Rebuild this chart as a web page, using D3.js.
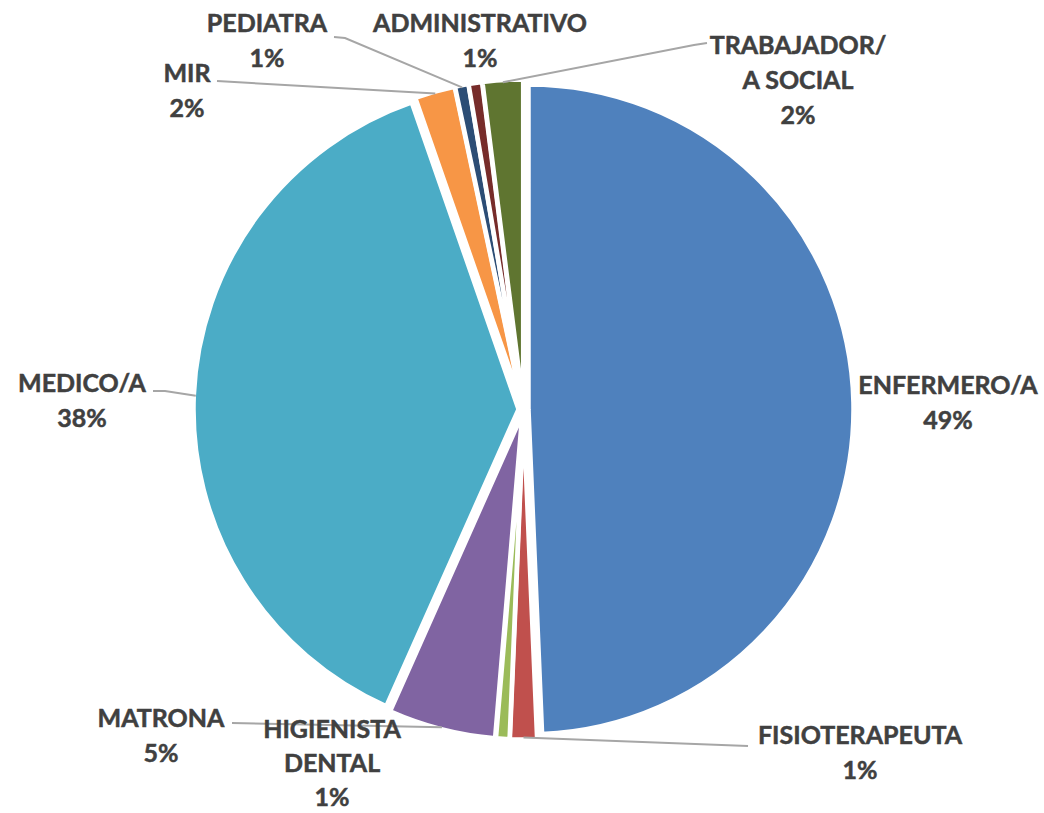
<!DOCTYPE html>
<html>
<head>
<meta charset="UTF-8">
<script src="https://d3js.org/d3.v7.min.js"></script>
<style>
  body { margin: 0; background: #fff; overflow: hidden; }
  .lbl { font-family: Lato, 'Open Sans', sans-serif; font-weight: bold; font-size: 25px;
         fill: #404040; stroke: #404040; stroke-width: 0.5; }
  .leader { fill: none; stroke: #a6a6a6; stroke-width: 2; }
</style>
</head>
<body>
<div id="chart"></div>
<script>
  // staff categories, clockwise from 12 o'clock
  const categories = ["ENFERMERO/A", "FISIOTERAPEUTA", "HIGIENISTA DENTAL", "MATRONA", "MEDICO/A",
                      "MIR", "PEDIATRA", "ADMINISTRATIVO", "TRABAJADOR/A SOCIAL"];
  const counts = [74, 2, 1, 8, 57, 3, 1, 1, 3];
  const colors = ["#4F81BD", "#C0504D", "#9BBB59", "#8064A2", "#4BACC6",
                  "#F79646", "#2C4D75", "#772C2A", "#5F7530"];

  // where each label sits (centre of first line) and where its leader leaves it
  const labelLayout = {
    "ENFERMERO/A":         { x: 948, y: 385, lines: ["ENFERMERO/A"] },
    "FISIOTERAPEUTA":      { x: 860, y: 735, lines: ["FISIOTERAPEUTA"], leader: [[748, 746]] },
    "HIGIENISTA DENTAL":   { x: 332, y: 729, gap: 34, lines: ["HIGIENISTA", "DENTAL"] },
    "MATRONA":             { x: 161, y: 718, lines: ["MATRONA"], leader: [[232, 723]] },
    "MEDICO/A":            { x: 82,  y: 383, lines: ["MEDICO/A"], leader: [[153, 391], [165, 391]] },
    "MIR":                 { x: 187, y: 73,  lines: ["MIR"], leader: [[217, 81]] },
    "PEDIATRA":            { x: 267, y: 23,  lines: ["PEDIATRA"], leader: [[334, 37], [345, 38]] },
    "ADMINISTRATIVO":      { x: 480, y: 23,  lines: ["ADMINISTRATIVO"] },
    "TRABAJADOR/A SOCIAL": { x: 798, y: 45,  lines: ["TRABAJADOR/", "A SOCIAL"], leader: [[707, 43], [694, 45]] }
  };

  const width = 1044, height = 813;
  const cx = 523.5, cy = 409.5, radius = 325, explode = 5, lineGap = 35;

  const svg = d3.select("#chart").append("svg")
    .attr("width", width)
    .attr("height", height);

  const total = d3.sum(counts);
  const data = categories.map((c, i) => ({ name: c, value: counts[i], color: colors[i] }));

  const pie = d3.pie().value(d => d.value).sort(null);
  const arc = d3.arc().innerRadius(0).outerRadius(radius);
  const arcs = pie(data);

  const mid = d => (d.startAngle + d.endAngle) / 2;

  const g = svg.append("g").attr("transform", `translate(${cx},${cy})`);

  g.selectAll("path.slice")
    .data(arcs)
    .enter().append("path")
    .attr("class", "slice")
    .attr("d", arc)
    .attr("transform", d => `translate(${explode * Math.sin(mid(d))},${-explode * Math.cos(mid(d))})`)
    .attr("fill", d => d.data.color)
    .attr("stroke", "#fff")
    .attr("stroke-width", 4.5);

  // leader lines: from label to the slice edge at its mid angle
  arcs.forEach(d => {
    const lay = labelLayout[d.data.name];
    if (!lay.leader) return;
    const r = radius + explode - 2;
    const end = [cx + r * Math.sin(mid(d)), cy - r * Math.cos(mid(d))];
    svg.append("path")
      .attr("class", "leader")
      .attr("d", d3.line()(lay.leader.concat([end])));
  });

  const fmt = v => Math.round(v / total * 100) + "%";

  arcs.forEach(d => {
    const lay = labelLayout[d.data.name];
    const step = lay.gap || lineGap;
    const t = svg.append("text")
      .attr("class", "lbl")
      .attr("text-anchor", "middle");
    lay.lines.concat([fmt(d.data.value)]).forEach((s, i) => {
      t.append("tspan")
        .attr("x", lay.x)
        .attr("y", lay.y + i * step)
        .attr("dy", "0.35em")
        .text(s);
    });
  });
</script>
</body>
</html>
